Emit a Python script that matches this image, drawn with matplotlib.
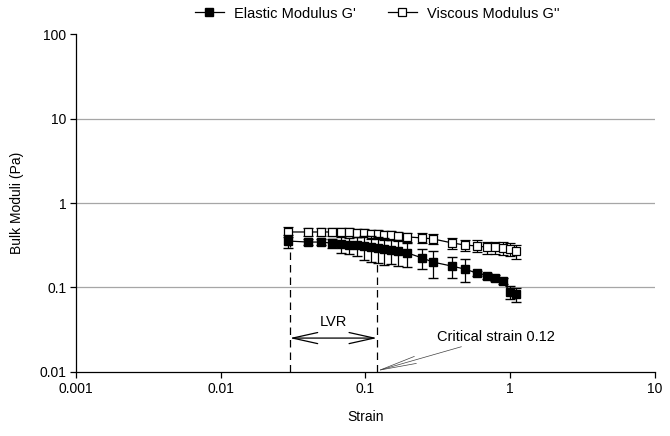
import matplotlib.pyplot as plt
from matplotlib.lines import Line2D
import numpy as np

plt.rcParams['font.family'] = ['Liberation Sans', 'DejaVu Sans']
plt.rcParams['font.size'] = 10

# strain values
strain = [0.029, 0.040, 0.049, 0.059, 0.068, 0.077, 0.087, 0.098, 0.109, 0.122,
          0.134, 0.150, 0.168, 0.194, 0.246, 0.292, 0.396, 0.487, 0.589, 0.690,
          0.785, 0.891, 0.996, 1.096]
g_elastic = [0.355, 0.345, 0.345, 0.335, 0.327, 0.318, 0.318, 0.310, 0.302, 0.294,
             0.286, 0.279, 0.271, 0.257, 0.224, 0.200, 0.179, 0.165, 0.148, 0.137,
             0.129, 0.120, 0.088, 0.083]
g_elastic_err = [0.06, 0.03, 0.03, 0.04, 0.07, 0.07, 0.08, 0.10, 0.10, 0.10,
                 0.10, 0.09, 0.09, 0.08, 0.06, 0.07, 0.05, 0.05, 0.01, 0.01,
                 0.01, 0.01, 0.015, 0.015]
g_viscous = [0.454, 0.454, 0.454, 0.454, 0.454, 0.454, 0.441, 0.441, 0.430, 0.430,
             0.419, 0.419, 0.407, 0.397, 0.386, 0.376, 0.337, 0.318, 0.310, 0.300,
             0.300, 0.292, 0.285, 0.270]
g_viscous_err = [0.06, 0.05, 0.05, 0.05, 0.05, 0.05, 0.05, 0.05, 0.05, 0.05,
                 0.05, 0.05, 0.05, 0.05, 0.05, 0.05, 0.05, 0.05, 0.05, 0.05,
                 0.05, 0.05, 0.05, 0.05]

lvr_start, lvr_end = 0.03, 0.12
grid_levels = [0.1, 1, 10]

fig = plt.figure(figsize=(6.7, 4.36), dpi=100)
ax = fig.add_axes([0.1134, 0.1468, 0.8642, 0.7752])
ax.set_xscale('log')
ax.set_yscale('log')
ax.set_xlim(0.001, 10)
ax.set_ylim(0.01, 100)

for lvl in grid_levels:
    ax.axhline(lvl, color='#a6a6a6', linewidth=0.9, zorder=0)

ax.errorbar(strain, g_viscous, yerr=g_viscous_err, color='black', linewidth=0.9,
            marker='s', markersize=6, markerfacecolor='white',
            markeredgecolor='black', markeredgewidth=0.9, capsize=3.5,
            elinewidth=0.9, zorder=3)
ax.errorbar(strain, g_elastic, yerr=g_elastic_err, color='black', linewidth=0.9,
            marker='s', markersize=6, markerfacecolor='black',
            markeredgecolor='black', capsize=3.5, elinewidth=0.9, zorder=4)

# LVR boundaries
ax.plot([lvr_start, lvr_start], [0.01, 0.33], color='black', linestyle=(0, (6, 4)),
        linewidth=0.9, zorder=2)
ax.plot([lvr_end, lvr_end], [0.01, 0.2], color='black', linestyle=(0, (6, 4)),
        linewidth=0.9, zorder=2)
ax.annotate('', xy=(lvr_start, 0.0252), xytext=(lvr_end, 0.0252),
            arrowprops=dict(arrowstyle='<->, head_length=1.8, head_width=0.4',
                            color='black', lw=0.9, shrinkA=0, shrinkB=0))
ax.text(0.06, 0.032, 'LVR', ha='center', va='bottom', fontsize=10.5)
ax.annotate('Critical strain 0.12', xy=(lvr_end, 0.0103), xytext=(0.31, 0.026),
            ha='left', va='center', fontsize=10.5,
            arrowprops=dict(arrowstyle='->, head_length=2.5, head_width=0.25',
                            color='#404040', lw=0.5, shrinkA=0, shrinkB=0))

ax.set_xticks([0.001, 0.01, 0.1, 1, 10])
ax.set_xticklabels(['0.001', '0.01', '0.1', '1', '10'])
ax.set_yticks([0.01, 0.1, 1, 10, 100])
ax.set_yticklabels(['0.01', '0.1', '1', '10', '100'])
ax.minorticks_off()
ax.tick_params(direction='out', length=4, width=0.9, pad=3)
for side in ['top', 'right']:
    ax.spines[side].set_visible(False)
for side in ['left', 'bottom']:
    ax.spines[side].set_linewidth(0.9)

ax.set_xlabel('Strain', labelpad=10)
ax.set_ylabel('Bulk Moduli (Pa)', labelpad=11)

handles = [
    Line2D([], [], color='black', lw=0.9, marker='s', markersize=6,
           markerfacecolor='black', markeredgecolor='black'),
    Line2D([], [], color='black', lw=0.9, marker='s', markersize=6,
           markerfacecolor='white', markeredgecolor='black', markeredgewidth=0.9),
]
labels = ["Elastic Modulus G'", "Viscous Modulus G''"]
fig.legend(handles, labels, loc='upper center', bbox_to_anchor=(0.563, 1.015),
           ncol=2, frameon=False, handlelength=2.0, handletextpad=0.7,
           columnspacing=2.2, fontsize=10.5)

fig.savefig('out.png', dpi=100)
